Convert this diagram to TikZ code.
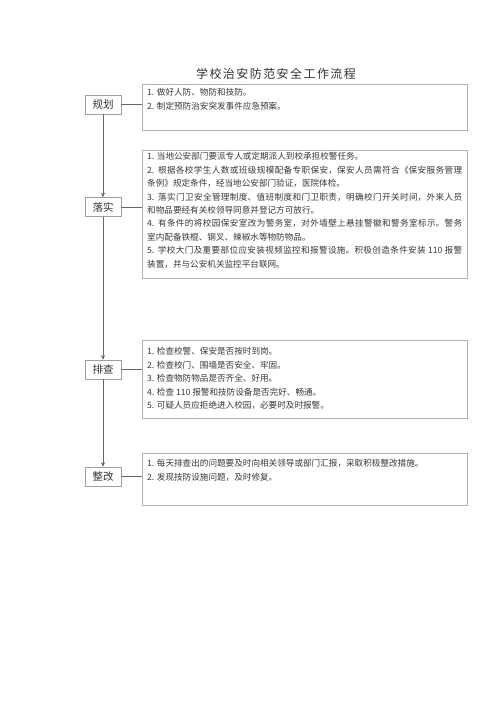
\documentclass[tikz,border=0pt]{standalone}
\usepackage{fontspec}
\setmainfont{Noto Sans CJK SC}
\newfontfamily\titlefont[LetterSpace=12]{Noto Sans CJK SC}
\usetikzlibrary{arrows.meta,calc}
\XeTeXlinebreaklocale "zh"
\XeTeXlinebreakskip=0pt plus 1pt
\begin{document}
\begin{tikzpicture}[x=1pt,y=-1pt,
  lbl/.style={draw=gray!75, line width=0.6pt, minimum width=36pt, minimum height=19pt, inner sep=0pt, text=black!80, font=\fontsize{10.5}{12}\selectfont},
  cbox/.style={draw=gray!60, line width=0.7pt, inner sep=0pt, anchor=north west, minimum width=325pt},
  ctext/.style={anchor=north west, text width=315pt, align=justify, inner sep=0pt, text=black!78, font=\fontsize{8.6}{13.4}\selectfont},
  link/.style={draw=gray!80!black, line width=0.6pt},
  arr/.style={link, -{Stealth[length=4.5pt,width=4pt]}}]
\fill[white] (0,0) rectangle (500,707);
\useasboundingbox (0,0) rectangle (500,707);

\node[text=black!80] (title) at (276,74) {\titlefont\fontsize{12}{14}\selectfont 学校治安防范安全工作流程};

% content boxes
\node[cbox, minimum height=46pt] (c1) at (142,84) {};
\node[cbox, minimum height=128pt] (c2) at (142,150) {};
\node[cbox, minimum height=78pt] (c3) at (142,340) {};
\node[cbox, minimum height=52pt] (c4) at (142,453) {};

% labels
\node[lbl] (l1) at (103,104.5) {规划};
\node[lbl] (l2) at (103,207) {落实};
\node[lbl] (l3) at (103,369.5) {排查};
\node[lbl] (l4) at (103,476.5) {整改};

% texts
\node[ctext] (t1) at (147,88.5) {1. 做好人防、物防和技防。\par
2. 制定预防治安突发事件应急预案。};
\node[ctext] (t2) at (147,152.5) {1. 当地公安部门要派专人或定期派人到校承担校警任务。\par
2. 根据各校学生人数或班级规模配备专职保安，保安人员需符合《保安服务管理\linebreak 条例》规定条件，经当地公安部门验证，医院体检。\par
3. 落实门卫安全管理制度、值班制度和门卫职责，明确校门开关时间，外来人员\linebreak 和物品要经有关校领导同意并登记方可放行。\par
4. 有条件的将校园保安室改为警务室，对外墙壁上悬挂警徽和警务室标示。警务\linebreak 室内配备铁棍、钢叉、辣椒水等物防物品。\par
5. 学校大门及重要部位应安装视频监控和报警设施。积极创造条件安装 110 报警\linebreak 装置，并与公安机关监控平台联网。};
\node[ctext] (t3) at (147,347.5) {1. 检查校警、保安是否按时到岗。\par
2. 检查校门、围墙是否安全、牢固。\par
3. 检查物防物品是否齐全、好用。\par
4. 检查 110 报警和技防设备是否完好、畅通。\par
5. 可疑人员应拒绝进入校园，必要时及时报警。};
\node[ctext] (t4) at (147,459.5) {1. 每天排查出的问题要及时向相关领导或部门汇报，采取积极整改措施。\par
2. 发现技防设施问题，及时修复。};

% connectors
\draw[link] (l1.east) -- (l1.east -| c1.west);
\draw[link] (l2.east) -- (l2.east -| c2.west);
\draw[link] (l3.east) -- (l3.east -| c3.west);
\draw[link] (l4.east) -- (l4.east -| c4.west);
\draw[arr] (l1.south) -- (l2.north);
\draw[arr] (l2.south) -- (l3.north);
\draw[arr] (l3.south) -- (l4.north);
\end{tikzpicture}
\end{document}
